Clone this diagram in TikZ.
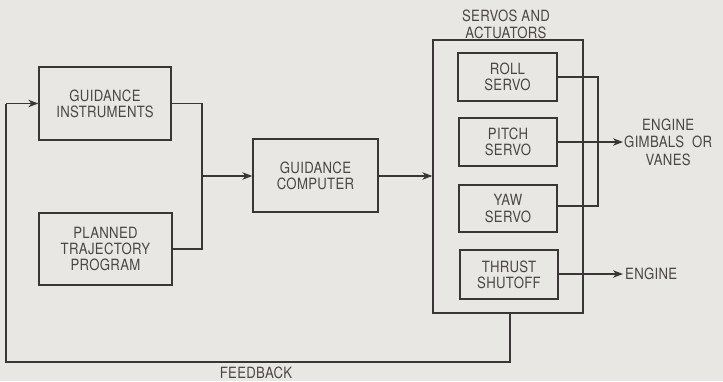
\documentclass[tikz,border=0pt]{standalone}
\usepackage{fontspec}
\setmainfont[FakeStretch=0.85,LetterSpace=2]{TeX Gyre Heros}
\usetikzlibrary{arrows.meta}
\definecolor{bg}{HTML}{E9E7E3}
\definecolor{ink}{HTML}{3A3636}
\definecolor{txt}{HTML}{4A4646}
\begin{document}
\begin{tikzpicture}[x=1pt,y=-1pt,
  box/.style={draw=ink, line width=1.3pt, rectangle, inner sep=0pt, align=center,
    font=\fontsize{15.5}{16.2}\selectfont, text=txt},
  lbl/.style={inner sep=0pt, align=center, font=\fontsize{15.5}{17.5}\selectfont, text=txt},
  wire/.style={draw=ink, line width=1.3pt},
  arr/.style={wire, -{Stealth[length=10pt,width=7.5pt,inset=3pt]}}]
\fill[bg] (0,0) rectangle (723,381);
\useasboundingbox (0,0) rectangle (723,381);
% boxes
\node[box, minimum width=132, minimum height=73] (gi) at (105,103.5) {GUIDANCE\\INSTRUMENTS};
\node[box, minimum width=133, minimum height=72] (pt) at (105.5,249) {PLANNED\\TRAJECTORY\\PROGRAM};
\node[box, minimum width=125, minimum height=73] (gc) at (315.5,175.5) {GUIDANCE\\COMPUTER};
\node[box, minimum width=150, minimum height=273] (sa) at (508,176.5) {};
\node[lbl, anchor=south] (satitle) at (506,39) {SERVOS AND\\ACTUATORS};
\node[box, minimum width=99, minimum height=48] (roll) at (507.5,77) {ROLL\\SERVO};
\node[box, minimum width=98, minimum height=48] (pitch) at (508,142) {PITCH\\SERVO};
\node[box, minimum width=98, minimum height=47] (yaw) at (508,208.5) {YAW\\SERVO};
\node[box, minimum width=98, minimum height=49] (thr) at (509,274.5) {THRUST\\SHUTOFF};
% labels
\node[lbl, anchor=west] (egv) at (624,142) {ENGINE\\GIMBALS\ \ OR\\VANES};
\node[lbl, anchor=west] (eng) at (625,274) {ENGINE};
\node[lbl] (fb) at (256,373) {FEEDBACK};
% coordinates
\coordinate (j) at (202,176);
\coordinate (rj) at (598,77);
\coordinate (yj) at (598,206);
\coordinate (fb1) at (510,362);
\coordinate (fb2) at (6,362);
\coordinate (fb3) at (6,103.5);
\coordinate (pout) at (623,142);
\coordinate (tout) at (623,274);
% connectors
\draw[wire] (gi.east) -| (j);
\draw[wire] (pt.east) -| (j);
\draw[arr] (j) -- (gc.west |- j);
\draw[arr] (gc.east |- j) -- (sa.west |- j);
\draw[wire] (roll.east |- rj) -- (rj) -- (yj) -- (yaw.east |- yj);
\draw[arr] (pitch.east) -- (pout);
\draw[arr] (thr.east |- tout) -- (tout);
\draw[wire] (sa.south -| fb1) -- (fb1) -- (fb2) -- (fb3);
\draw[arr] (fb3) -- (gi.west);
\end{tikzpicture}
\end{document}
